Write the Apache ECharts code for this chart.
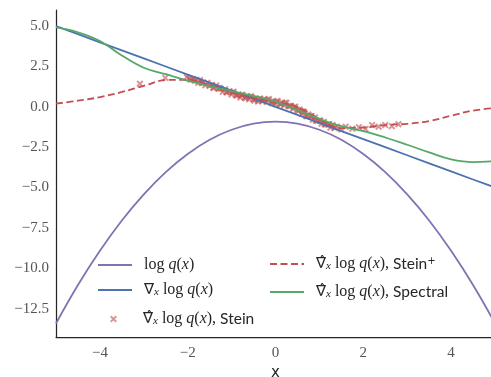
<!DOCTYPE html>
<html>
<head>
<meta charset="utf-8">
<script src="https://cdn.jsdelivr.net/npm/echarts@6/dist/echarts.min.js"></script>
<style>
  html, body { margin: 0; padding: 0; background: #fff; }
  #chart { width: 491px; height: 377px; }
</style>
</head>
<body>
<div id="chart"></div>
<script>
// values
const xs = [-5, -4.5, -4, -3.5, -3, -2.5, -2, -1.5, -1, -0.5, 0, 0.5, 1, 1.5, 2, 2.5, 3, 3.5, 4, 4.5, 5]
const logQ = [-13.42, -11.04, -8.92, -7.04, -5.42, -4.04, -2.92, -2.04, -1.42, -1.04, -0.92, -1.04, -1.42, -2.04, -2.92, -4.04, -5.42, -7.04, -8.92, -11.04, -13.42]
const gradLogQ = [5, 4.5, 4, 3.5, 3, 2.5, 2, 1.5, 1, 0.5, 0, -0.5, -1, -1.5, -2, -2.5, -3, -3.5, -4, -4.5, -5]
const steinPlus = [0.2, 0.38, 0.6, 0.92, 1.3, 1.66, 1.68, 1.35, 0.92, 0.55, 0.3, 0.0, -0.75, -1.32, -1.28, -1.13, -1.05, -0.88, -0.55, -0.23, -0.08]
const spectral = [4.92, 4.62, 4.08, 3.18, 2.42, 2.02, 1.62, 1.28, 0.98, 0.68, 0.32, -0.2, -0.75, -1.2, -1.5, -1.9, -2.35, -2.82, -3.25, -3.42, -3.37]

const steinPoints = [
  [-3.09, 1.43], [-2.51, 1.80], [-2.02, 1.84], [-1.97, 1.76], [-1.93, 1.68], [-1.88, 1.73],
  [-1.84, 1.62], [-1.80, 1.66], [-1.76, 1.49], [-1.72, 1.66], [-1.68, 1.48], [-1.64, 1.50],
  [-1.60, 1.33], [-1.55, 1.49], [-1.50, 1.30], [-1.45, 1.36], [-1.40, 1.17], [-1.35, 1.32],
  [-1.30, 1.12], [-1.25, 1.12], [-1.20, 0.93], [-1.15, 1.09], [-1.10, 0.90], [-1.05, 0.96],
  [-1.00, 0.77], [-0.95, 0.93], [-0.90, 0.74], [-0.85, 0.76], [-0.80, 0.58], [-0.75, 0.75],
  [-0.70, 0.57], [-0.65, 0.65], [-0.60, 0.47], [-0.55, 0.65], [-0.50, 0.47], [-0.45, 0.50],
  [-0.40, 0.33], [-0.35, 0.52], [-0.30, 0.37], [-0.25, 0.46], [-0.20, 0.30], [-0.15, 0.48],
  [-0.10, 0.31], [-0.05, 0.34], [0.00, 0.18], [0.05, 0.36], [0.10, 0.19], [0.15, 0.26],
  [0.20, 0.09], [0.25, 0.25], [0.30, 0.05], [0.35, 0.06], [0.40, -0.12], [0.45, 0.02],
  [0.50, -0.19], [0.55, -0.16], [0.60, -0.43], [0.65, -0.31], [0.70, -0.57], [0.75, -0.47],
  [0.80, -0.58], [0.85, -0.80], [0.90, -0.66], [0.95, -0.88], [1.00, -0.84], [1.05, -1.04],
  [1.10, -0.93], [1.15, -1.10], [1.20, -1.10], [1.25, -1.29], [1.30, -1.13], [1.35, -1.31],
  [1.40, -1.24], [1.50, -1.41], [1.60, -1.23], [1.75, -1.35], [1.90, -1.26], [2.05, -1.37],
  [2.20, -1.13], [2.35, -1.23], [2.50, -1.13], [2.65, -1.20], [2.80, -1.08],
  [-1.42, 1.18], [-1.28, 1.17], [-1.12, 0.91], [-0.98, 0.89], [-0.88, 0.69], [-0.78, 0.72],
  [-0.68, 0.54], [-0.58, 0.62], [-0.48, 0.38], [-0.38, 0.49], [-0.28, 0.39], [-0.18, 0.44],
  [-0.08, 0.23], [0.02, 0.33], [0.12, 0.16], [0.22, 0.25], [0.32, 0.05], [0.42, -0.04],
  [0.52, -0.26], [0.62, -0.29], [0.72, -0.58], [0.82, -0.57], [0.92, -0.85], [1.02, -0.86],
  [1.12, -1.08], [1.22, -1.07]
]

const xTicks = [-4, -2, 0, 2, 4]
const yTicks = [5, 2.5, 0, -2.5, -5, -7.5, -10, -12.5]

const colors = {
  logq: '#8172b2',
  grad: '#4c72b0',
  stein: '#c44e52',
  spectral: '#55a868'
}

const pair = ys => xs.map((x, i) => [x, ys[i]])
const minus = s => s.replace('-', '\u2212')

const serif = 'Liberation Serif'
const rich = {
  m: { fontFamily: serif, fontSize: 16, color: '#262626' },
  i: { fontFamily: serif, fontStyle: 'italic', fontSize: 16, color: '#262626' },
  n: { fontFamily: 'DejaVu Sans', fontSize: 15, color: '#262626' },
  s: { fontFamily: serif, fontStyle: 'italic', fontSize: 11, color: '#262626', verticalAlign: 'bottom', lineHeight: 11 },
  t: { fontFamily: 'Lato', fontSize: 15.5, color: '#262626' },
  p: { fontFamily: 'DejaVu Sans', fontSize: 10, color: '#262626', verticalAlign: 'top', lineHeight: 10 }
}
const logq = '{m|log }{i|q}{m|(}{i|x}{m|)}'
const labels = {
  logq: logq,
  grad: '{n|\u2207}{s|x}{m| }' + logq,
  stein: '{n|\u2207\u0302}{s|x}{m| }' + logq + '{m|, }{t|Stein}',
  steinPlus: '{n|\u2207\u0302}{s|x}{m| }' + logq + '{m|, }{t|Stein}{p|+}',
  spectral: '{n|\u2207\u0302}{s|x}{m| }' + logq + '{m|, }{t|Spectral}'
}

const legendAt = (name, left, top, extra) => Object.assign({
  data: [name],
  left: left,
  top: top,
  itemWidth: 34,
  itemHeight: 10,
  padding: 0,
  selectedMode: false,
  formatter: n => labels[n],
  itemStyle: { opacity: 0 },
  textStyle: { rich: rich, padding: [0, 0, 0, 7] }
}, extra || {})

const crossPath = 'path://M0,2 L2,0 L5,3 L8,0 L10,2 L7,5 L10,8 L8,10 L5,7 L2,10 L0,8 L3,5 Z'

const chart = echarts.init(document.getElementById('chart'), null, { renderer: 'canvas' })
const option = {
  animation: false,
  backgroundColor: '#fff',
  grid: { left: 56, right: -4, top: 10, bottom: 40, outerBoundsMode: 'none', containLabel: false },
  legend: [
    legendAt('logq', 97, 257),
    legendAt('grad', 97, 282),
    legendAt('stein', 110, 311, {
      itemWidth: 7,
      itemHeight: 7,
      itemStyle: { opacity: 0.6 },
      textStyle: { rich: rich, padding: [0, 0, 0, 21] }
    }),
    legendAt('steinPlus', 269, 256),
    legendAt('spectral', 269, 284)
  ],
  xAxis: {
    type: 'value',
    min: -5,
    max: 5,
    name: 'x',
    nameLocation: 'middle',
    nameGap: 28,
    nameTextStyle: { fontFamily: 'DejaVu Sans', fontSize: 15, color: '#262626' },
    axisLine: { show: true, onZero: false, lineStyle: { color: '#262626', width: 1.25 } },
    axisTick: { show: false },
    splitLine: { show: false },
    axisLabel: {
      customValues: xTicks,
      margin: 9,
      fontFamily: serif,
      fontSize: 15,
      color: '#555',
      formatter: v => minus(String(v))
    }
  },
  yAxis: {
    type: 'value',
    min: -14.26,
    max: 6.0,
    axisLine: { show: true, onZero: false, lineStyle: { color: '#262626', width: 1.25 } },
    axisTick: { show: false },
    splitLine: { show: false },
    axisLabel: {
      customValues: yTicks,
      margin: 7,
      fontFamily: serif,
      fontSize: 15,
      color: '#555',
      formatter: v => minus(v.toFixed(1))
    }
  },
  series: [
    {
      name: 'logq',
      type: 'line',
      data: pair(logQ),
      smooth: 0.4,
      symbol: 'none',
      lineStyle: { color: colors.logq, width: 1.8 },
      itemStyle: { color: colors.logq }
    },
    {
      name: 'grad',
      type: 'line',
      data: pair(gradLogQ),
      symbol: 'none',
      lineStyle: { color: colors.grad, width: 1.8 },
      itemStyle: { color: colors.grad }
    },
    {
      name: 'stein',
      type: 'scatter',
      data: steinPoints,
      symbol: crossPath,
      symbolSize: 7,
      itemStyle: { color: colors.stein, opacity: 0.6 }
    },
    {
      name: 'steinPlus',
      type: 'line',
      data: pair(steinPlus),
      smooth: 0.4,
      symbol: 'none',
      lineStyle: { color: colors.stein, width: 1.8, type: [7, 3.5] },
      itemStyle: { color: colors.stein }
    },
    {
      name: 'spectral',
      type: 'line',
      data: pair(spectral),
      smooth: 0.4,
      symbol: 'none',
      lineStyle: { color: colors.spectral, width: 1.8 },
      itemStyle: { color: colors.spectral }
    }
  ]
}

chart.setOption(option)
window.addEventListener('resize', () => {
  chart.resize()
})
</script>
</body>
</html>
